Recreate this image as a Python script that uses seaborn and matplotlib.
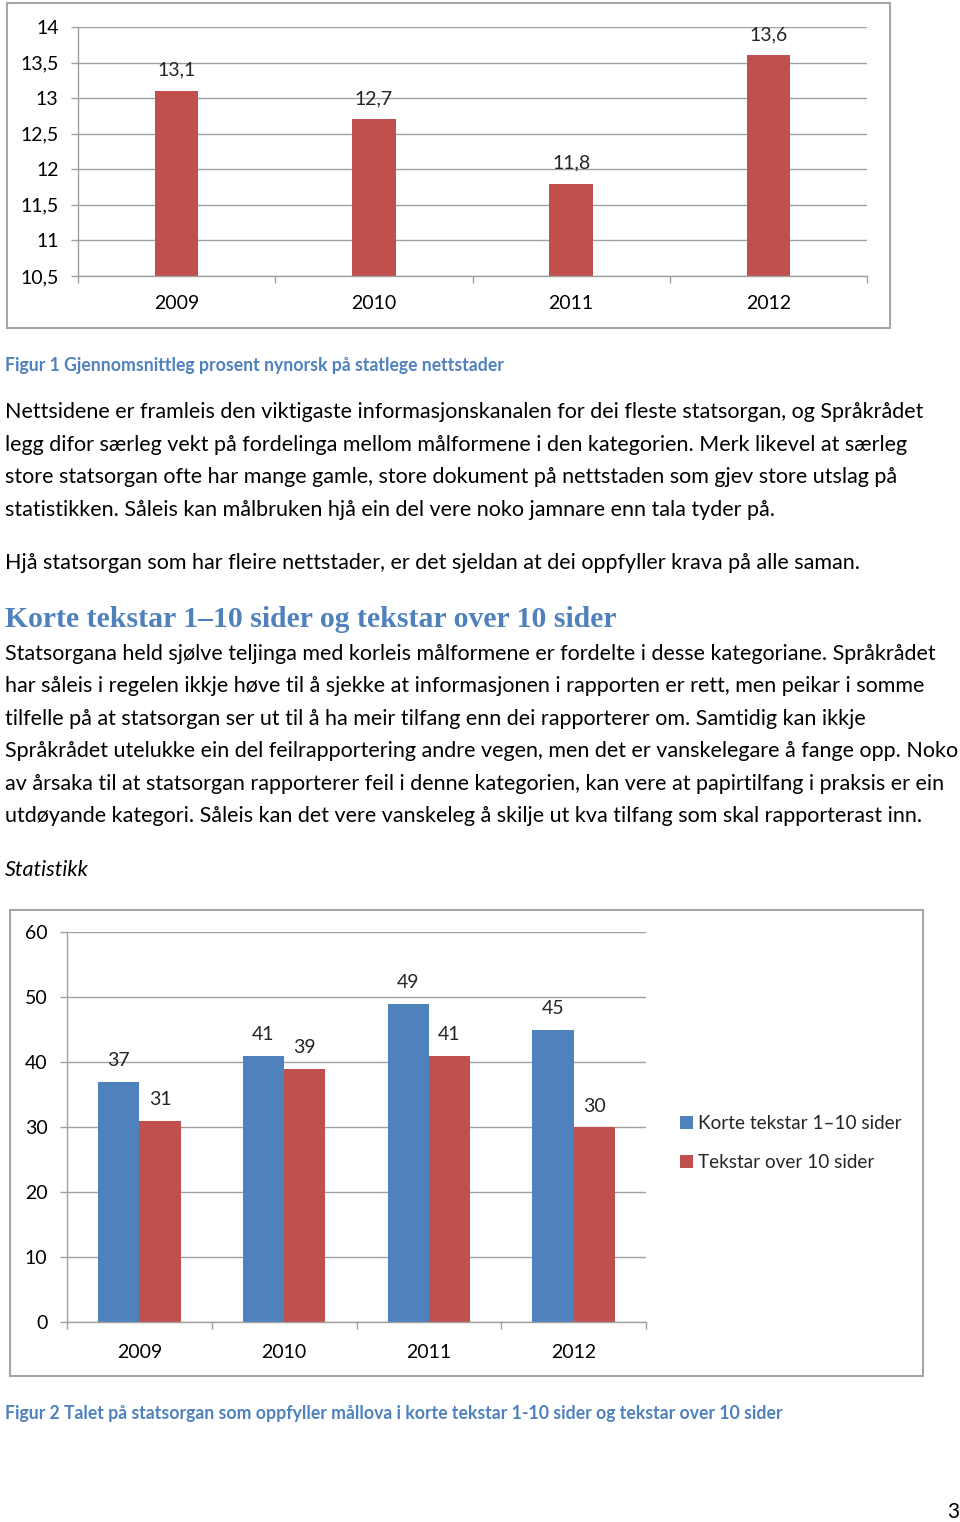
import matplotlib
matplotlib.use("Agg")
import matplotlib.pyplot as plt
import matplotlib.ticker as mticker
from matplotlib.patches import Rectangle, Patch
import seaborn as sns
import pandas as pd

# ---------------- data ----------------
years = ["2009", "2010", "2011", "2012"]
nynorsk_pct = [13.1, 12.7, 11.8, 13.6]
korte_tekstar = [37, 41, 49, 45]
tekstar_over10 = [31, 39, 41, 30]
series_names = ["Korte tekstar 1–10 sider", "Tekstar over 10 sider"]
top_yticks = [10.5, 11, 11.5, 12, 12.5, 13, 13.5, 14]
bottom_yticks = [0, 10, 20, 30, 40, 50, 60]

caption1 = "Figur 1 Gjennomsnittleg prosent nynorsk på statlege nettstader"
para1 = [
    "Nettsidene er framleis den viktigaste informasjonskanalen for dei fleste statsorgan, og Språkrådet",
    "legg difor særleg vekt på fordelinga mellom målformene i den kategorien. Merk likevel at særleg",
    "store statsorgan ofte har mange gamle, store dokument på nettstaden som gjev store utslag på",
    "statistikken. Såleis kan målbruken hjå ein del vere noko jamnare enn tala tyder på.",
]
para2 = ["Hjå statsorgan som har fleire nettstader, er det sjeldan at dei oppfyller krava på alle saman."]
heading = "Korte tekstar 1–10 sider og tekstar over 10 sider"
para3 = [
    "Statsorgana held sjølve teljinga med korleis målformene er fordelte i desse kategoriane. Språkrådet",
    "har såleis i regelen ikkje høve til å sjekke at informasjonen i rapporten er rett, men peikar i somme",
    "tilfelle på at statsorgan ser ut til å ha meir tilfang enn dei rapporterer om. Samtidig kan ikkje",
    "Språkrådet utelukke ein del feilrapportering andre vegen, men det er vanskelegare å fange opp. Noko",
    "av årsaka til at statsorgan rapporterer feil i denne kategorien, kan vere at papirtilfang i praksis er ein",
    "utdøyande kategori. Såleis kan det vere vanskeleg å skilje ut kva tilfang som skal rapporterast inn.",
]
subhead = "Statistikk"
caption2 = "Figur 2 Talet på statsorgan som oppfyller mållova i korte tekstar 1-10 sider og tekstar over 10 sider"
page_no = "3"

# ---------------- style ----------------
sns.set_theme(style="white")
plt.rcParams["font.family"] = ["Lato", "DejaVu Sans"]

RED = "#C0504D"
BLUE = "#4F81BD"
CAPBLUE = "#4F81BD"
GRID = "#A0A0A0"
FRAME = "#A6A6A6"
CHART_FS = 14

W, H = 960, 1522
fig = plt.figure(figsize=(W / 100, H / 100), dpi=100)
fig.patch.set_facecolor("white")


def fx(x):
    return x / W


def fy(y):
    return 1 - y / H


def axes_px(l, t, r, b):
    return fig.add_axes([fx(l), fy(b), (r - l) / W, (b - t) / H])


def comma(v):
    s = f"{v:g}"
    return s.replace(".", ",")


def style_axes(ax, yticks, fmt, xpad=14):
    ax.set_facecolor("none")
    for s in ["top", "right"]:
        ax.spines[s].set_visible(False)
    for s in ["left", "bottom"]:
        ax.spines[s].set_color(GRID)
        ax.spines[s].set_linewidth(1.0)
    ax.set_yticks(yticks)
    ax.yaxis.set_major_formatter(mticker.FuncFormatter(lambda v, p: fmt(v)))
    ax.yaxis.grid(True, color=GRID, linewidth=1.0)
    ax.set_axisbelow(True)
    ax.tick_params(axis="y", which="major", left=True, length=5, width=1, color=GRID,
                   labelsize=CHART_FS, pad=9, labelcolor="black")
    ax.set_xlim(-0.5, 3.5)
    ax.set_xticks([0, 1, 2, 3])
    ax.set_xticks([-0.5, 0.5, 1.5, 2.5, 3.5], minor=True)
    ax.tick_params(axis="x", which="major", length=0, labelsize=CHART_FS, pad=xpad, labelcolor="black")
    ax.tick_params(axis="x", which="minor", bottom=True, length=5, width=1, color=GRID)
    ax.set_xlabel("")
    ax.set_ylabel("")


# frames
fig.patches.append(Rectangle((fx(7), fy(328)), (890 - 7) / W, (328 - 3) / H,
                             transform=fig.transFigure, fill=False, ec=FRAME, lw=1.5))
fig.patches.append(Rectangle((fx(10), fy(1376)), (923 - 10) / W, (1376 - 910) / H,
                             transform=fig.transFigure, fill=False, ec=FRAME, lw=1.5))

# ---------------- top chart ----------------
ax1 = axes_px(78, 27, 867, 276)
sns.barplot(x=years, y=nynorsk_pct, color=RED, width=0.22, saturation=1, linewidth=0, ax=ax1)
ax1.set_ylim(10.5, 14)
style_axes(ax1, top_yticks, comma)
for c in ax1.containers:
    ax1.bar_label(c, labels=[comma(v) for v in nynorsk_pct], padding=9, fontsize=CHART_FS)

# ---------------- bottom chart ----------------
df = pd.DataFrame({
    "year": years * 2,
    "value": korte_tekstar + tekstar_over10,
    "series": [series_names[0]] * 4 + [series_names[1]] * 4,
})
ax2 = axes_px(67, 932, 646, 1322)
sns.barplot(data=df, x="year", y="value", hue="series", palette=[BLUE, RED],
            width=0.57, saturation=1, linewidth=0, ax=ax2)
ax2.set_ylim(0, 60)
style_axes(ax2, bottom_yticks, lambda v: f"{int(v)}", xpad=15.5)
for c, vals in zip(ax2.containers, [korte_tekstar, tekstar_over10]):
    ax2.bar_label(c, labels=[str(v) for v in vals], padding=9, fontsize=CHART_FS)
handles = [Patch(facecolor=BLUE, edgecolor="none"), Patch(facecolor=RED, edgecolor="none")]
ax2.legend(handles, series_names, loc="center left",
           bbox_to_anchor=(fx(672), fy(1143)), bbox_transform=fig.transFigure,
           frameon=False, fontsize=13.6, handlelength=0.7, handleheight=0.7,
           handletextpad=0.3, labelspacing=1.15, borderaxespad=0)

# ---------------- text ----------------
BODY = 15.5
CAP = 12.7
LEFT = fx(5)
fig.text(LEFT, fy(365), caption1, fontsize=CAP, fontweight="bold", color=CAPBLUE, va="center")
for y, line in zip([412, 445, 477, 510], para1):
    fig.text(LEFT, fy(y), line, fontsize=BODY, color="black", va="center")
fig.text(LEFT, fy(563), para2[0], fontsize=BODY, color="black", va="center")
fig.text(LEFT, fy(620), heading, fontsize=21.4, fontweight="bold", color=CAPBLUE, va="center",
         family=["Liberation Serif", "DejaVu Serif"])
for y, line in zip([654, 686, 719, 751, 784, 816], para3):
    fig.text(LEFT, fy(y), line, fontsize=BODY, color="black", va="center")
fig.text(LEFT, fy(870), subhead, fontsize=BODY, style="italic", color="black", va="center")
fig.text(LEFT, fy(1413), caption2, fontsize=CAP, fontweight="bold", color=CAPBLUE, va="center")
fig.text(fx(953), fy(1512), page_no, fontsize=15, color="black", va="center", ha="center")

fig.savefig("out.png", dpi=100, facecolor="white")
